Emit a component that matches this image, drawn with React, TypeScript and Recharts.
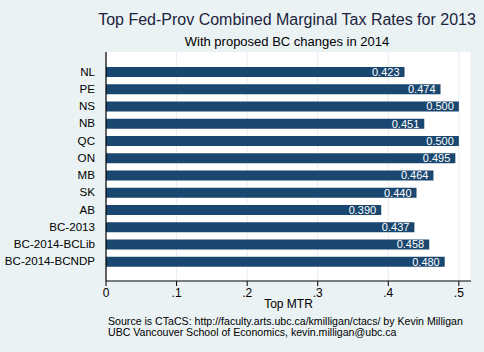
import React from 'react';
import { BarChart, Bar, XAxis, YAxis, CartesianGrid, LabelList } from 'recharts';

const categories = ['NL', 'PE', 'NS', 'NB', 'QC', 'ON', 'MB', 'SK', 'AB', 'BC-2013', 'BC-2014-BCLib', 'BC-2014-BCNDP'];
const topMtr = [0.423, 0.474, 0.5, 0.451, 0.5, 0.495, 0.464, 0.44, 0.39, 0.437, 0.458, 0.48];
const xTicks = [0, 0.1, 0.2, 0.3, 0.4, 0.5];

const data = categories.map((c, i) => ({ name: c, value: topMtr[i] }));

const FONT = 'Arial, "Liberation Sans", Helvetica, sans-serif';
const BG = '#EAF2F3';

export default function App() {
  return (
    <div style={{ position: 'absolute', left: 0, top: 0, width: 484, height: 352, background: BG, fontFamily: FONT, overflow: 'hidden' }}>
      <BarChart
        width={484}
        height={352}
        data={data}
        layout="vertical"
        margin={{ top: 52, right: 13, bottom: 41, left: 0 }}
      >
        <CartesianGrid fill="#ffffff" horizontal={false} stroke="#E6EEF0" strokeWidth={1} />
        <XAxis
          type="number"
          domain={[0, 0.5172]}
          ticks={xTicks}
          tickFormatter={(v: number) => (v === 0 ? '0' : '.' + Math.round(v * 10))}
          axisLine={{ stroke: '#000', strokeWidth: 1.2 }}
          tickLine={{ stroke: '#000' }}
          tickSize={5}
          tickMargin={2}
          height={30}
          tick={{ fill: '#000', fontSize: 12, fontFamily: FONT }}
          allowDataOverflow
        />
        <YAxis
          type="category"
          dataKey="name"
          width={106}
          axisLine={{ stroke: '#000', strokeWidth: 1.2 }}
          tickLine={false}
          tickMargin={5}
          padding={{ top: 11, bottom: 11 }}
          interval={0}
          tick={{ fill: '#000', fontSize: 11.6, fontFamily: FONT }}
        />
        <Bar dataKey="value" fill="#1A476F" barSize={10} isAnimationActive={false}>
          <LabelList
            dataKey="value"
            position="insideRight"
            offset={5}
            formatter={(v: number) => v.toFixed(3)}
            style={{ fill: '#ffffff', fontSize: 11, fontFamily: FONT }}
          />
        </Bar>
      </BarChart>
      <div style={{ position: 'absolute', left: 0, width: 484, top: 11, textAlign: 'center', paddingLeft: 90, boxSizing: 'border-box', fontSize: 16, color: '#1C2340', whiteSpace: 'nowrap' }}>
        Top Fed-Prov Combined Marginal Tax Rates for 2013
      </div>
      <div style={{ position: 'absolute', left: 0, width: 484, top: 34, textAlign: 'center', paddingLeft: 90, boxSizing: 'border-box', fontSize: 13, color: '#000', whiteSpace: 'nowrap' }}>
        With proposed BC changes in 2014
      </div>
      <div style={{ position: 'absolute', left: 106, width: 365, top: 297, textAlign: 'center', fontSize: 12, color: '#000', whiteSpace: 'nowrap' }}>
        Top MTR
      </div>
      <div style={{ position: 'absolute', left: 108, top: 316, fontSize: 10.6, lineHeight: '10.5px', color: '#000', whiteSpace: 'nowrap' }}>
        <div>Source is CTaCS: http://faculty.arts.ubc.ca/kmilligan/ctacs/ by Kevin Milligan</div>
        <div>UBC Vancouver School of Economics, kevin.milligan@ubc.ca</div>
      </div>
    </div>
  );
}
